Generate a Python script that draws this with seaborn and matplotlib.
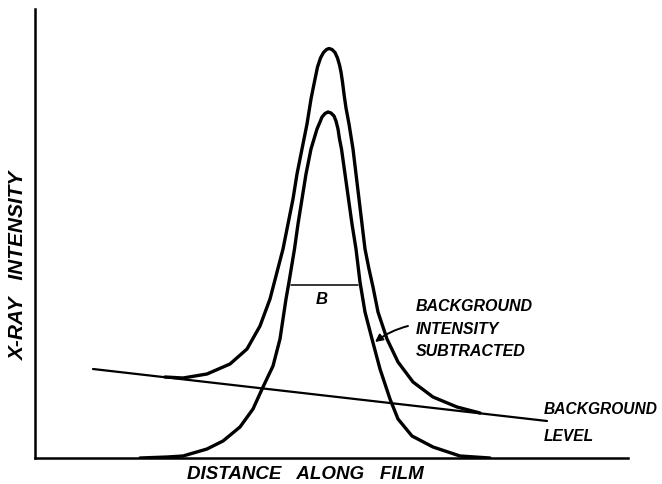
import matplotlib
matplotlib.use("Agg")
import matplotlib.pyplot as plt
import seaborn as sns

# Peak with background intensity subtracted (distance, intensity)
inner_x = [105, 132, 148, 172, 188, 205, 218, 228, 238, 245, 251, 254, 259.5, 263, 267, 271,
           276, 279, 282, 285, 287, 290, 293, 296, 299, 301, 303, 304.5, 306.5, 310, 313.5, 317,
           321, 325, 330, 337, 345, 355, 363, 377, 398, 425, 455]
inner_y = [0, 1, 2, 9, 17, 31, 49, 71, 92, 119, 159, 176, 209, 234, 259, 284,
           309, 319, 329, 336, 341, 344.5, 346, 345, 342, 337, 329, 319, 309, 284, 259, 234,
           209, 176, 146, 119, 89, 59, 39, 22, 11, 2, 0]

# Measured peak including background
outer_x = [130, 148, 172, 195, 212, 225, 235, 241.5, 248, 253, 258, 262, 267, 272, 276, 279,
           282.5, 285.5, 288.5, 291.5, 294, 297, 300, 302.5, 304.5, 306, 307.5, 309, 311, 314, 318,
           321, 324, 327, 330, 334, 338, 343, 352, 363, 378, 398, 422, 445]
outer_y = [81, 80, 84, 94, 109, 132, 159, 184, 209, 234, 259, 284, 309, 334, 359, 374,
           391, 400, 405.5, 408.5, 409.5, 408.5, 405.5, 400, 393, 386, 376, 364, 350, 334, 309,
           284, 259, 234, 209, 189, 171, 146, 119, 96, 76, 61, 51, 45]

# Background level line
bg_x = [58, 512]
bg_y = [89, 37]

# Half-height breadth B
b_x = [256, 323]
b_y = [173, 173]

sns.set_theme(style="white")
FONT = ["Liberation Sans", "DejaVu Sans"]
plt.rcParams["font.family"] = FONT

fig = plt.figure(figsize=(6.62, 4.85), dpi=100)
ax = fig.add_axes([35 / 662, 26 / 485, 593 / 662, 449 / 485])

lw = 2.4
curve_kw = dict(sort=False, estimator=None, color="black", ax=ax)
sns.lineplot(x=inner_x, y=inner_y, linewidth=lw, solid_joinstyle="round", **curve_kw)
sns.lineplot(x=outer_x, y=outer_y, linewidth=lw, solid_joinstyle="round", **curve_kw)
sns.lineplot(x=bg_x, y=bg_y, linewidth=1.6, **curve_kw)
sns.lineplot(x=b_x, y=b_y, linewidth=1.1, **curve_kw)

ax.set_xlim(0, 593)
ax.set_ylim(0, 449)
ax.set_xticks([])
ax.set_yticks([])
ax.set_xlabel("")
ax.set_ylabel("")
for s in ["top", "right"]:
    ax.spines[s].set_visible(False)
for s in ["left", "bottom"]:
    ax.spines[s].set_color("black")
    ax.spines[s].set_linewidth(1.8)

def tk(size):
    return dict(fontsize=size, fontstyle="italic", fontweight="bold", color="black",
                family=FONT, clip_on=False)

ax.text(287, 159, "B", ha="center", va="center", **tk(12))
for label, yy in [("BACKGROUND", 152), ("INTENSITY", 129), ("SUBTRACTED", 107)]:
    ax.text(381, yy, label, ha="left", va="center", **tk(11.5))
for label, yy in [("BACKGROUND", 49), ("LEVEL", 22)]:
    ax.text(509, yy, label, ha="left", va="center", **tk(11.2))
ax.text(-17, 194, "X-RAY   INTENSITY", ha="center", va="center", rotation=90, **tk(15))
ax.text(270, -16, "DISTANCE   ALONG   FILM", ha="center", va="center", **tk(13.5))

ax.annotate("", xy=(340, 116), xytext=(373, 132),
            arrowprops=dict(arrowstyle="-|>", color="black", lw=1.4,
                            mutation_scale=11, shrinkA=0, shrinkB=0,
                            connectionstyle="arc3,rad=0.1"))

fig.savefig("out.png", dpi=100)
